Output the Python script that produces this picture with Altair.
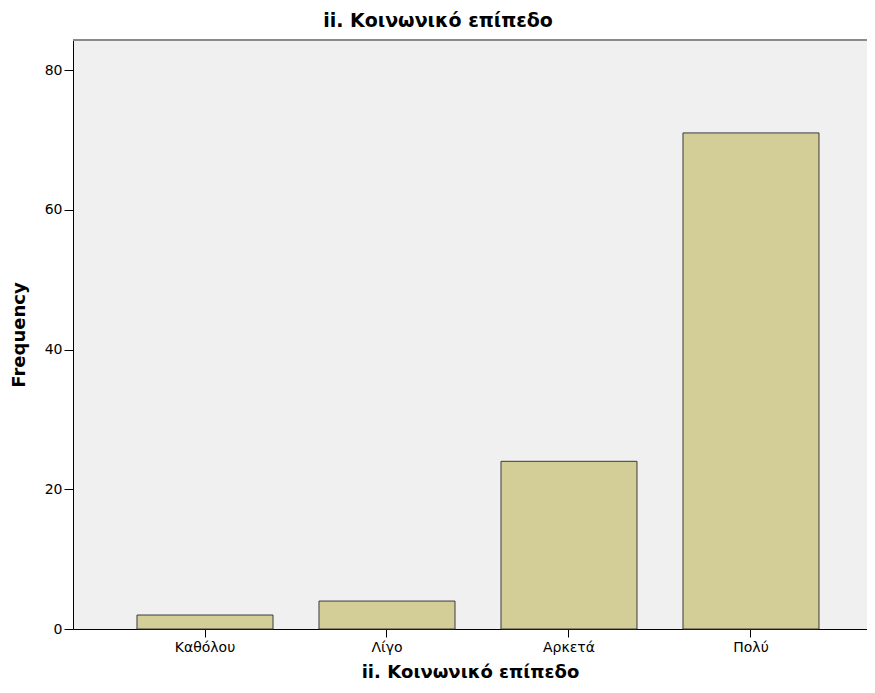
import altair as alt
import pandas as pd

categories = ["Καθόλου", "Λίγο", "Αρκετά", "Πολύ"]
frequencies = [2, 4, 24, 71]
y_ticks = [0, 20, 40, 60, 80]
title_text = "ii. Κοινωνικό επίπεδο"

df = pd.DataFrame({"cat": categories, "freq": frequencies})

W, H = 794, 589
FONT = "DejaVu Sans"

bars = alt.Chart(df).mark_bar(
    color="#D3CE97", stroke="#3a3a3a", strokeWidth=1
).encode(
    x=alt.X("cat:N", sort=categories,
            scale=alt.Scale(paddingInner=0.2527, paddingOuter=0.3077, align=0.5714, round=False),
            axis=alt.Axis(title=title_text, labelAngle=0, tickSize=8, labelPadding=3,
                          titlePadding=9, labelFontSize=14, titleFontSize=18,
                          titleFontWeight="bold", domainColor="#000", tickColor="#000",
                          labelColor="#000", titleColor="#000", labelFont=FONT, titleFont=FONT)),
    y=alt.Y("freq:Q", scale=alt.Scale(domain=[0, 84.3], nice=False),
            axis=alt.Axis(title="Frequency", values=y_ticks, grid=False, tickSize=9,
                          labelPadding=2, titlePadding=16, labelFontSize=14, titleFontSize=18,
                          titleFontWeight="bold", domainColor="#000", tickColor="#000",
                          labelColor="#000", titleColor="#000", labelFont=FONT, titleFont=FONT)),
)

top_line = alt.Chart(df).mark_rule(color="#8a8a8a", strokeWidth=2).encode(
    x=alt.value(0), x2=alt.value(W), y=alt.value(0)
)

chart = alt.layer(bars, top_line).properties(
    width=W, height=H,
    title=alt.TitleParams(title_text, fontSize=19, fontWeight="bold", font=FONT,
                          color="#000", anchor="middle", dx=-32, offset=8),
    autosize=alt.AutoSizeParams(type="none"),
    padding={"left": 65, "top": 32, "right": 0, "bottom": 56},
).configure_view(fill="#F0F0F0", stroke=None)

chart.save("out.html", embed_options={"renderer": "svg", "actions": False})
